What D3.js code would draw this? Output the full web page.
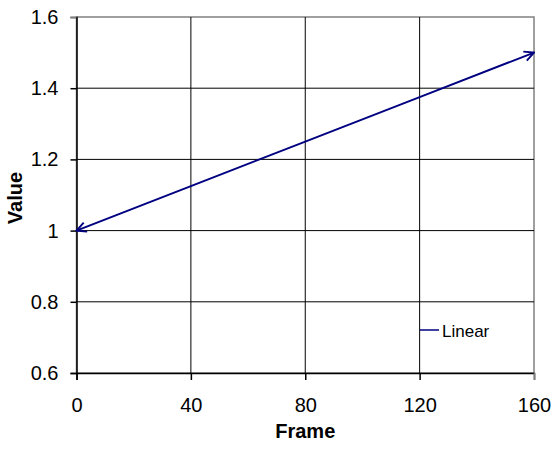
<!DOCTYPE html>
<html>
<head>
<meta charset="utf-8">
<script src="https://cdn.jsdelivr.net/npm/d3@7"></script>
<style>
  body { margin: 0; background: #fff; }
  text { font-family: "Liberation Sans", Arial, sans-serif; }
</style>
</head>
<body>
<div id="chart"></div>
<script>
const frames = [0, 40, 80, 120, 160];
const values = [1, 1.125, 1.25, 1.375, 1.5];
const xTicks = [0, 40, 80, 120, 160];
const yTicks = [0.6, 0.8, 1, 1.2, 1.4, 1.6];
const seriesName = "Linear";

const width = 556, height = 455;
const margin = { top: 17, right: 22, bottom: 82, left: 76.5 };

const svg = d3.select("#chart").append("svg")
  .attr("width", width)
  .attr("height", height);

const x = d3.scaleLinear().domain([0, 160]).range([margin.left, width - margin.right]);
const y = d3.scaleLinear().domain([0.6, 1.6]).range([height - margin.bottom, margin.top]);

// plot border (top / right gray)
svg.append("rect")
  .attr("x", x(0)).attr("y", y(1.6))
  .attr("width", x(160) - x(0)).attr("height", y(0.6) - y(1.6))
  .attr("fill", "none").attr("stroke", "#808080").attr("stroke-width", 1.5);

// gridlines
svg.append("g").selectAll("line")
  .data(xTicks.filter(d => d > 0 && d < 160))
  .join("line")
  .attr("x1", d => x(d)).attr("x2", d => x(d))
  .attr("y1", y(0.6)).attr("y2", y(1.6))
  .attr("stroke", "#000").attr("stroke-width", 1);

svg.append("g").selectAll("line")
  .data(yTicks.filter(d => d > 0.6 && d < 1.6))
  .join("line")
  .attr("x1", x(0)).attr("x2", x(160))
  .attr("y1", d => y(d)).attr("y2", d => y(d))
  .attr("stroke", "#000").attr("stroke-width", 1);

// axes
const xAxis = svg.append("g")
  .attr("transform", `translate(0,${y(0.6)})`)
  .call(d3.axisBottom(x).tickValues(xTicks).tickSize(7).tickPadding(18).tickFormat(d3.format("d")));
const yAxis = svg.append("g")
  .attr("transform", `translate(${x(0)},0)`)
  .call(d3.axisLeft(y).tickValues(yTicks).tickSize(6).tickPadding(12).tickFormat(d => d));

[xAxis, yAxis].forEach(a => {
  a.attr("font-size", null).attr("font-family", null);
  a.select(".domain").attr("stroke", "#000").attr("stroke-width", 1.5);
  a.selectAll(".tick line").attr("stroke", "#000").attr("stroke-width", 1.5);
  a.selectAll("text").style("font-size", "20px").attr("fill", "#000");
});
// last ticks in gray (top / right border)
xAxis.selectAll(".tick line").filter(d => d === 160).attr("stroke", "#808080");
yAxis.selectAll(".tick line").filter(d => d === 1.6).attr("stroke", "#808080");

// arrow markers
const defs = svg.append("defs");
defs.append("marker")
  .attr("id", "arrowEnd")
  .attr("viewBox", "0 0 10 10")
  .attr("refX", 9).attr("refY", 5)
  .attr("markerWidth", 6).attr("markerHeight", 6)
  .attr("markerUnits", "strokeWidth")
  .attr("orient", "auto-start-reverse")
  .append("path")
  .attr("d", "M1,1 L9,5 L1,9")
  .attr("fill", "none").attr("stroke", "#000080").attr("stroke-width", 1.6);

const pts = frames.map((f, i) => [f, values[i]]);
const line = d3.line().x(d => x(d[0])).y(d => y(d[1]));

svg.append("path")
  .datum(pts)
  .attr("d", line)
  .attr("fill", "none")
  .attr("stroke", "#000080")
  .attr("stroke-width", 2)
  .attr("marker-start", "url(#arrowEnd)")
  .attr("marker-end", "url(#arrowEnd)");

// legend
const lg = svg.append("g").attr("transform", `translate(420,330)`);
lg.append("line").attr("x1", 0).attr("x2", 19).attr("y1", 0).attr("y2", 0)
  .attr("stroke", "#000080").attr("stroke-width", 1.5);
lg.append("text").attr("x", 22).attr("y", 7).style("font-size", "17px").text(seriesName);

// axis titles
svg.append("text")
  .attr("x", (x(0) + x(160)) / 2).attr("y", 438)
  .attr("text-anchor", "middle")
  .style("font-size", "20px").attr("font-weight", "bold")
  .text("Frame");
svg.append("text")
  .attr("transform", `translate(22,${(y(0.6) + y(1.6)) / 2 + 3}) rotate(-90)`)
  .attr("text-anchor", "middle")
  .style("font-size", "20px").attr("font-weight", "bold")
  .text("Value");
</script>
</body>
</html>
